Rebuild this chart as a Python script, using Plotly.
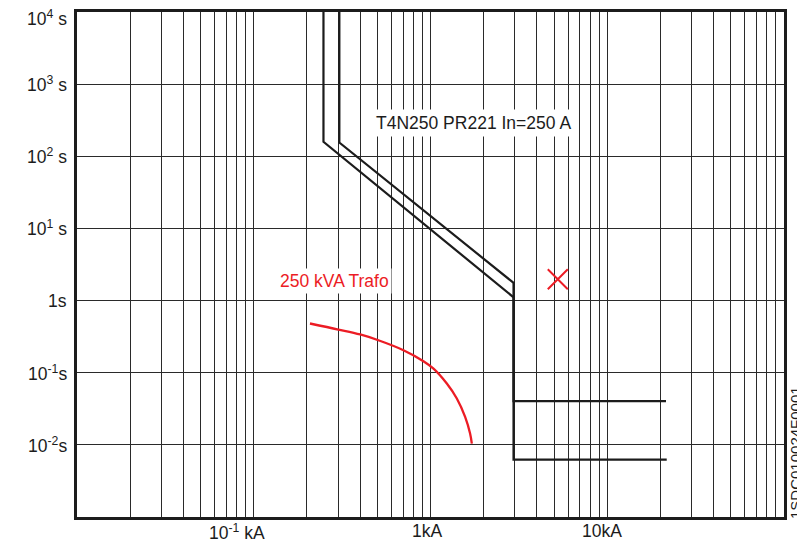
import numpy as np
import plotly.graph_objects as go

# ---- data (kA, s) ----
breaker_upper_I = [0.305, 0.305, 2.95, 2.95, 21.5]
breaker_upper_t = [10000, 155, 1.76, 0.0403, 0.0403]
breaker_lower_I = [0.248, 0.248, 2.95, 2.95, 21.7]
breaker_lower_t = [10000, 159, 1.11, 0.00625, 0.00625]

trafo_I = [0.208, 0.301, 0.400, 0.507, 0.703, 0.912, 1.04, 1.237, 1.409, 1.570, 1.675, 1.713]
trafo_t = [0.481, 0.397, 0.339, 0.282, 0.205, 0.1445, 0.114, 0.0708, 0.0439, 0.0244, 0.01435, 0.0104]

marker_I = [5.25]
marker_t = [1.98]

x_major = [0.1, 1, 10]
x_major_labels = ["10<sup>-1</sup> kA", "1kA", "10kA"]
x_label_shift = [-17, -4, -5]

y_ticks = [1e4, 1e3, 1e2, 1e1, 1, 1e-1, 1e-2]
y_labels = ["10<sup>4</sup> s", "10<sup>3</sup> s", "10<sup>2</sup> s", "10<sup>1</sup> s", "1s",
            "10<sup>-1</sup>s", "10<sup>-2</sup>s"]
y_label_shift = [-6, 0, 0, 0, 0, 0, 0]

breaker_label = "T4N250 PR221 In=250 A"
trafo_label = "250 kVA Trafo"
code_label = "1SDC010024F0001"

# grid positions for the log axes
x_grid = [m * 10.0 ** e for e in range(-2, 2) for m in range(1, 10)] + [100]
y_grid = [10.0 ** e for e in range(-3, 5)]

FONT = "Liberation Sans, Arial, Helvetica, sans-serif"
BLACK = "#1c1c1c"
RED = "#ec1c24"
FS = 17.5

fig = go.Figure()
fig.add_trace(go.Scatter(x=breaker_upper_I, y=breaker_upper_t, mode="lines",
                         line=dict(color=BLACK, width=2.2), showlegend=False, hoverinfo="skip"))
fig.add_trace(go.Scatter(x=breaker_lower_I, y=breaker_lower_t, mode="lines",
                         line=dict(color=BLACK, width=2.2), showlegend=False, hoverinfo="skip"))
fig.add_trace(go.Scatter(x=trafo_I, y=trafo_t, mode="lines", line_shape="spline",
                         line=dict(color=RED, width=2.3), showlegend=False, hoverinfo="skip"))
fig.add_trace(go.Scatter(x=marker_I, y=marker_t, mode="markers",
                         marker=dict(symbol="x-thin", size=20, line=dict(color=RED, width=2)),
                         showlegend=False, hoverinfo="skip"))

annotations = []
for v, lab, sh in zip(x_major, x_major_labels, x_label_shift):
    annotations.append(dict(x=np.log10(v), y=0, xref="x", yref="paper", text=lab,
                            showarrow=False, xanchor="center", yanchor="top", xshift=sh, yshift=-2,
                            font=dict(family=FONT, size=FS, color=BLACK)))
for v, lab, sh in zip(y_ticks, y_labels, y_label_shift):
    annotations.append(dict(x=0, y=np.log10(v), xref="paper", yref="y", text=lab,
                            showarrow=False, xanchor="right", yanchor="middle", xshift=-8, yshift=sh,
                            font=dict(family=FONT, size=FS, color=BLACK)))
annotations.append(dict(x=np.log10(1.74), y=np.log10(293), xref="x", yref="y", text=breaker_label,
                        showarrow=False, bgcolor="white", borderpad=3,
                        font=dict(family=FONT, size=FS, color=BLACK)))
annotations.append(dict(x=np.log10(0.287), y=np.log10(1.88), xref="x", yref="y", text=trafo_label,
                        showarrow=False, bgcolor="white", borderpad=2,
                        font=dict(family=FONT, size=FS, color=RED)))
annotations.append(dict(x=1.0, y=0.0, xref="paper", yref="paper", text=code_label,
                        showarrow=False, textangle=-90, xanchor="left", yanchor="bottom",
                        xshift=2, yshift=-3, borderpad=0,
                        font=dict(family=FONT, size=15, color=BLACK)))

# the page body adds an 8 px offset, so the figure is 8 px smaller and margins compensate
fig.update_layout(
    width=797, height=536,
    margin=dict(l=69, r=21, t=4, b=27, autoexpand=False),
    paper_bgcolor="white", plot_bgcolor="white",
    annotations=annotations,
    xaxis=dict(type="log", range=[-2, 2], tickvals=x_grid, showticklabels=False, ticks="",
               automargin=False,
               showgrid=True, gridcolor="#2a2a2a", gridwidth=1, zeroline=False,
               showline=True, linecolor=BLACK, linewidth=2.5, mirror=True),
    yaxis=dict(type="log", range=[-3, 4], tickvals=y_grid, showticklabels=False, ticks="",
               automargin=False,
               showgrid=True, gridcolor="#2a2a2a", gridwidth=1, zeroline=False,
               showline=True, linecolor=BLACK, linewidth=2.5, mirror=True),
)

fig.write_html("out.html")
